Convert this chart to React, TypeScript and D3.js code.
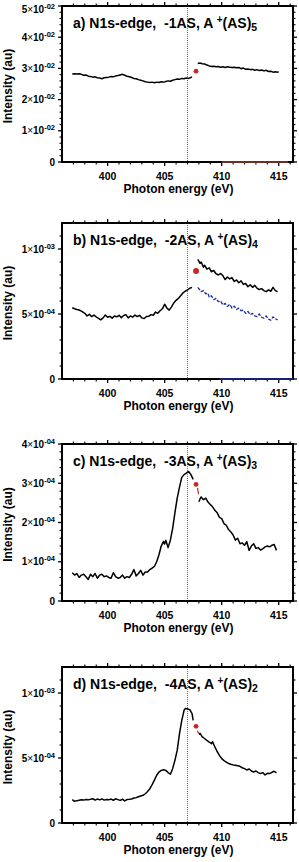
import React from "react";
import * as d3 from "d3";

const W = 299;
const H = 862;
const X_LEFT = 62;
const X_RIGHT = 293;
const FONT = "'Liberation Sans', Arial, Helvetica, sans-serif";

const energyDomain: [number, number] = [396, 416.25];
const energyMajor = [400, 405, 410, 415];
const energyMinor = [397, 398, 399, 401, 402, 403, 404, 406, 407, 408, 409, 411, 412, 413, 414, 416];
const edgeEnergy = 407.0;

// ---------- Panel a (values x 1e-2) ----------
const aBefore: [number, number][] = [
  [396.9, 2.82], [397.1, 2.83], [397.3, 2.82], [397.5, 2.83], [397.7, 2.81], [397.9, 2.78], [398.1, 2.79],
  [398.3, 2.75], [398.5, 2.74], [398.7, 2.72], [398.9, 2.73], [399.1, 2.7], [399.3, 2.69], [399.5, 2.67],
  [399.7, 2.7], [399.9, 2.71], [400.1, 2.72], [400.3, 2.74], [400.5, 2.73], [400.7, 2.76], [400.9, 2.77],
  [401.1, 2.79], [401.3, 2.81], [401.5, 2.78], [401.7, 2.75], [401.9, 2.73], [402.1, 2.71], [402.3, 2.68],
  [402.5, 2.67], [402.7, 2.64], [402.9, 2.62], [403.1, 2.6], [403.3, 2.57], [403.5, 2.56], [403.7, 2.55],
  [403.9, 2.56], [404.1, 2.54], [404.3, 2.56], [404.5, 2.55], [404.7, 2.57], [404.9, 2.56], [405.1, 2.58],
  [405.3, 2.6], [405.5, 2.59], [405.7, 2.62], [405.9, 2.64], [406.1, 2.66], [406.3, 2.65], [406.5, 2.68],
  [406.7, 2.67], [406.9, 2.69], [407.1, 2.68], [407.3, 2.71], [407.4, 2.73],
];
const aAfter: [number, number][] = [
  [407.9, 3.16], [408.1, 3.17], [408.3, 3.15], [408.5, 3.14], [408.7, 3.11], [408.9, 3.08], [409.1, 3.06],
  [409.3, 3.07], [409.5, 3.05], [409.7, 3.06], [409.9, 3.04], [410.1, 3.05], [410.3, 3.03], [410.5, 3.05],
  [410.7, 3.04], [410.9, 3.03], [411.1, 3.04], [411.3, 3.02], [411.5, 3.03], [411.7, 2.99], [411.9, 3.01],
  [412.1, 2.97], [412.3, 2.98], [412.5, 2.96], [412.7, 2.97], [412.9, 2.94], [413.1, 2.96], [413.3, 2.93],
  [413.5, 2.95], [413.7, 2.92], [413.9, 2.94], [414.1, 2.9], [414.3, 2.91], [414.5, 2.88], [414.7, 2.89],
  [414.9, 2.88], [415.0, 2.89],
];
const aDot: [number, number] = [407.75, 2.91];
const aZeroLine: [number, number][] = [[410.0, 0], [415.8, 0]];
const aTicks = [0, 1, 2, 3, 4, 5];
const aTickMant = ["0", "1", "2", "3", "4", "5"];
const aTickExp = ["", "-02", "-02", "-02", "-02", "-02"];
const aMinor = [0.2, 0.4, 0.6, 0.8, 1.2, 1.4, 1.6, 1.8, 2.2, 2.4, 2.6, 2.8, 3.2, 3.4, 3.6, 3.8, 4.2, 4.4, 4.6, 4.8];

// ---------- Panel b (values x 1e-4) ----------
const bBefore: [number, number][] = [
  [396.9, 5.48], [397.1, 5.4], [397.3, 5.35], [397.5, 5.31], [397.7, 5.22], [397.9, 5.1], [398.0, 5.05],
  [398.2, 4.85], [398.4, 4.97], [398.6, 4.8], [398.8, 4.92], [399.0, 4.78], [399.2, 4.67], [399.4, 4.55],
  [399.6, 4.7], [399.8, 4.92], [400.0, 4.75], [400.2, 4.82], [400.4, 4.68], [400.6, 4.85], [400.8, 4.78],
  [401.0, 4.9], [401.2, 4.72], [401.4, 4.88], [401.6, 4.95], [401.8, 4.7], [402.0, 4.85], [402.2, 4.76],
  [402.4, 4.92], [402.6, 4.8], [402.8, 4.9], [403.0, 4.7], [403.2, 4.65], [403.4, 4.8], [403.6, 4.82],
  [403.8, 4.95], [404.0, 4.9], [404.2, 5.15], [404.4, 5.05], [404.6, 5.25], [404.8, 5.4], [405.0, 5.75],
  [405.2, 5.45], [405.4, 5.3], [405.6, 5.55], [405.8, 5.85], [406.0, 6.05], [406.2, 6.2], [406.4, 6.4],
  [406.6, 6.62], [406.8, 6.75], [407.0, 6.85], [407.2, 6.98], [407.4, 7.05],
];
const bAfter: [number, number][] = [
  [407.9, 9.2], [408.0, 9.05], [408.1, 8.9], [408.2, 9.0], [408.4, 8.6], [408.5, 8.75], [408.7, 8.45],
  [408.9, 8.55], [409.1, 8.25], [409.3, 8.35], [409.5, 8.1], [409.7, 8.0], [409.9, 8.12], [410.1, 7.95],
  [410.3, 7.65], [410.5, 7.85], [410.7, 7.7], [410.9, 7.8], [411.1, 7.5], [411.3, 7.62], [411.5, 7.4],
  [411.7, 7.55], [411.9, 7.28], [412.1, 7.35], [412.3, 7.1], [412.5, 7.25], [412.7, 7.05], [412.9, 7.2],
  [413.1, 6.98], [413.3, 6.88], [413.5, 6.95], [413.7, 6.8], [413.9, 6.72], [414.1, 6.85], [414.3, 6.75],
  [414.5, 7.05], [414.7, 6.8], [414.9, 6.72],
];
const bDashed: [number, number][] = [
  [407.9, 7.05], [408.1, 6.85], [408.2, 6.72], [408.4, 6.8], [408.6, 6.55], [408.8, 6.6], [408.9, 6.3],
  [409.1, 6.4], [409.3, 6.1], [409.5, 6.2], [409.7, 5.95], [409.9, 6.0], [410.1, 5.7], [410.3, 5.82],
  [410.5, 5.58], [410.7, 5.75], [410.9, 5.45], [411.1, 5.6], [411.3, 5.35], [411.5, 5.45], [411.7, 5.25],
  [411.9, 5.3], [412.1, 5.05], [412.3, 5.2], [412.5, 4.95], [412.7, 5.05], [412.9, 4.85], [413.1, 4.8],
  [413.3, 5.0], [413.5, 4.75], [413.7, 4.68], [413.9, 4.85], [414.1, 4.6], [414.3, 4.52], [414.5, 4.78],
  [414.7, 4.62], [414.9, 4.55],
];
const bDot: [number, number] = [407.75, 8.31];
const bZeroLine: [number, number][] = [[409.8, 0], [416.25, 0]];
const bTicks = [0, 5, 10];
const bTickMant = ["0", "5", "1"];
const bTickExp = ["", "-04", "-03"];
const bMinor = [1, 2, 3, 4, 6, 7, 8, 9, 11];

// ---------- Panel c (values x 1e-4) ----------
const cBefore: [number, number][] = [
  [396.9, 0.72], [397.1, 0.66], [397.3, 0.7], [397.5, 0.6], [397.7, 0.66], [397.9, 0.68], [398.1, 0.62],
  [398.3, 0.55], [398.5, 0.68], [398.7, 0.62], [398.9, 0.7], [399.1, 0.58], [399.3, 0.66], [399.5, 0.68],
  [399.7, 0.62], [399.9, 0.64], [400.1, 0.6], [400.3, 0.58], [400.5, 0.72], [400.7, 0.62], [400.9, 0.58],
  [401.1, 0.6], [401.3, 0.66], [401.5, 0.58], [401.7, 0.62], [401.9, 0.6], [402.1, 0.68], [402.3, 0.8],
  [402.5, 0.64], [402.7, 0.7], [402.9, 0.78], [403.1, 0.66], [403.3, 0.74], [403.5, 0.74], [403.7, 0.8],
  [403.9, 0.84], [404.1, 0.88], [404.3, 1.0], [404.5, 1.18], [404.7, 1.4], [404.9, 1.52], [405.0, 1.45],
  [405.1, 1.55], [405.3, 1.36], [405.5, 1.55], [405.7, 1.85], [405.9, 2.25], [406.1, 2.62], [406.3, 2.9],
  [406.5, 3.15], [406.7, 3.22], [406.9, 3.26], [407.1, 3.3], [407.3, 3.22], [407.5, 3.1],
];
const cAfter: [number, number][] = [
  [408.0, 2.53], [408.1, 2.6], [408.2, 2.65], [408.4, 2.58], [408.6, 2.62], [408.8, 2.52], [409.0, 2.46],
  [409.2, 2.4], [409.4, 2.31], [409.6, 2.25], [409.8, 2.13], [410.0, 2.1], [410.2, 1.97], [410.4, 1.93],
  [410.6, 1.82], [410.8, 1.76], [411.0, 1.68], [411.2, 1.55], [411.4, 1.6], [411.6, 1.46], [411.8, 1.48],
  [412.0, 1.42], [412.2, 1.51], [412.4, 1.29], [412.6, 1.4], [412.8, 1.46], [413.0, 1.34], [413.2, 1.36],
  [413.4, 1.3], [413.6, 1.33], [413.8, 1.38], [414.0, 1.4], [414.2, 1.38], [414.4, 1.42], [414.6, 1.44],
  [414.8, 1.29],
];
const cRed: [number, number][] = [[407.88, 2.88], [407.97, 2.72]];
const cDot: [number, number] = [407.75, 2.97];
const cTicks = [0, 1, 2, 3, 4];
const cTickMant = ["0", "1", "2", "3", "4"];
const cTickExp = ["", "-04", "-04", "-04", "-04"];
const cMinor = [0.2, 0.4, 0.6, 0.8, 1.2, 1.4, 1.6, 1.8, 2.2, 2.4, 2.6, 2.8, 3.2, 3.4, 3.6, 3.8];

// ---------- Panel d (values x 1e-4) ----------
const dBefore: [number, number][] = [
  [396.9, 1.8], [397.1, 1.67], [397.3, 1.72], [397.5, 1.75], [397.7, 1.78], [397.9, 1.76], [398.1, 1.8],
  [398.3, 1.78], [398.5, 1.82], [398.7, 1.87], [398.9, 1.76], [399.1, 1.84], [399.3, 1.78], [399.5, 1.86],
  [399.7, 1.76], [399.9, 1.8], [400.1, 1.78], [400.3, 1.84], [400.5, 1.75], [400.7, 1.86], [400.9, 1.8],
  [401.1, 1.74], [401.3, 1.83], [401.5, 1.7], [401.7, 1.8], [401.9, 1.82], [402.1, 1.85], [402.3, 1.92],
  [402.5, 1.95], [402.7, 2.02], [402.9, 2.08], [403.1, 2.13], [403.3, 2.25], [403.5, 2.42], [403.7, 2.64],
  [403.9, 2.95], [404.1, 3.3], [404.3, 3.67], [404.5, 3.92], [404.7, 4.05], [404.9, 4.1], [405.1, 4.05],
  [405.3, 3.88], [405.5, 3.75], [405.7, 4.18], [405.9, 4.82], [406.1, 5.6], [406.3, 6.88], [406.5, 7.9],
  [406.6, 8.28], [406.7, 8.67], [406.8, 8.8], [407.0, 8.78], [407.2, 8.72], [407.4, 8.42], [407.5, 7.9],
];
const dAfter: [number, number][] = [
  [408.0, 6.82], [408.1, 6.9], [408.3, 6.62], [408.5, 6.5], [408.7, 6.35], [408.9, 6.23], [409.1, 6.1],
  [409.2, 6.25], [409.4, 5.85], [409.6, 5.5], [409.8, 5.2], [410.0, 4.95], [410.2, 4.8], [410.4, 4.69],
  [410.6, 4.58], [410.8, 4.52], [411.0, 4.47], [411.2, 4.44], [411.4, 4.4], [411.6, 4.36], [411.8, 4.25],
  [412.0, 4.18], [412.2, 4.08], [412.4, 4.15], [412.6, 4.0], [412.8, 3.92], [413.0, 4.0], [413.2, 3.88],
  [413.4, 3.8], [413.6, 3.88], [413.8, 3.7], [414.0, 3.82], [414.2, 3.8], [414.4, 3.9], [414.6, 3.98],
  [414.8, 3.85],
];
const dRed: [number, number][] = [[407.88, 7.1], [407.97, 6.88]];
const dDot: [number, number] = [407.75, 7.44];
const dTicks = [0, 5, 10];
const dTickMant = ["0", "5", "1"];
const dTickExp = ["", "-04", "-03"];
const dMinor = [1, 2, 3, 4, 6, 7, 8, 9, 11];

type Series = { data: [number, number][]; color: string; width: number; dash?: string };

type PanelCfg = {
  top: number;
  bottom: number;
  yMax: number;
  title: string;
  titleSub: string;
  ticks: number[];
  mant: string[];
  exp: string[];
  minor: number[];
  series: Series[];
  dot: [number, number];
  dotR: number;
};

const RED = "#c42a25";
const BLUE = "#1e2c9c";

const panels: PanelCfg[] = [
  {
    top: 6, bottom: 162, yMax: 5, title: "a) N1s-edge,  -1AS, A ", titleSub: "5",
    ticks: aTicks, mant: aTickMant, exp: aTickExp, minor: aMinor,
    series: [
      { data: aZeroLine, color: "#d0604a", width: 1.2 },
      { data: aBefore, color: "#000", width: 1.5 },
      { data: aAfter, color: "#000", width: 1.5 },
    ],
    dot: aDot, dotR: 2.4,
  },
  {
    top: 223, bottom: 379, yMax: 12, title: "b) N1s-edge,  -2AS, A ", titleSub: "4",
    ticks: bTicks, mant: bTickMant, exp: bTickExp, minor: bMinor,
    series: [
      { data: bZeroLine, color: BLUE, width: 1.4 },
      { data: bBefore, color: "#000", width: 1.5 },
      { data: bAfter, color: "#000", width: 1.5 },
      { data: bDashed, color: BLUE, width: 1.3, dash: "3.5 1.5" },
    ],
    dot: bDot, dotR: 3,
  },
  {
    top: 444, bottom: 601, yMax: 4, title: "c) N1s-edge,  -3AS, A ", titleSub: "3",
    ticks: cTicks, mant: cTickMant, exp: cTickExp, minor: cMinor,
    series: [
      { data: cBefore, color: "#000", width: 1.5 },
      { data: cAfter, color: "#000", width: 1.5 },
      { data: cRed, color: RED, width: 1.2 },
    ],
    dot: cDot, dotR: 2.4,
  },
  {
    top: 667, bottom: 823, yMax: 12, title: "d) N1s-edge,  -4AS, A ", titleSub: "2",
    ticks: dTicks, mant: dTickMant, exp: dTickExp, minor: dMinor,
    series: [
      { data: dBefore, color: "#000", width: 1.5 },
      { data: dAfter, color: "#000", width: 1.5 },
      { data: dRed, color: RED, width: 1.2 },
    ],
    dot: dDot, dotR: 2.4,
  },
];

function Panel({ p }: { p: PanelCfg }) {
  const x = d3.scaleLinear().domain(energyDomain).range([X_LEFT, X_RIGHT]);
  const y = d3.scaleLinear().domain([0, p.yMax]).range([p.bottom, p.top]);
  const line = d3
    .line<[number, number]>()
    .x((d) => x(d[0]))
    .y((d) => y(d[1]));
  const MAJ = 4;
  const MIN = 2.5;
  const midY = (p.top + p.bottom) / 2;
  return (
    <g>
      {p.ticks.map((t, i) => (
        <g key={"yt" + i}>
          <line x1={X_LEFT - MAJ} x2={X_LEFT} y1={y(t)} y2={y(t)} stroke="#000" strokeWidth={1.3} />
          <line x1={X_RIGHT} x2={X_RIGHT + MAJ} y1={y(t)} y2={y(t)} stroke="#000" strokeWidth={1.3} />
        </g>
      ))}
      {p.minor.map((t, i) => (
        <g key={"ym" + i}>
          <line x1={X_LEFT - MIN} x2={X_LEFT} y1={y(t)} y2={y(t)} stroke="#000" strokeWidth={1.1} />
          <line x1={X_RIGHT} x2={X_RIGHT + MIN} y1={y(t)} y2={y(t)} stroke="#000" strokeWidth={1.1} />
        </g>
      ))}
      {energyMajor.map((t, i) => (
        <g key={"xt" + i}>
          <line x1={x(t)} x2={x(t)} y1={p.bottom} y2={p.bottom + MAJ} stroke="#000" strokeWidth={1.3} />
          <line x1={x(t)} x2={x(t)} y1={p.top - MAJ} y2={p.top} stroke="#000" strokeWidth={1.3} />
        </g>
      ))}
      {energyMinor.map((t, i) => (
        <g key={"xm" + i}>
          <line x1={x(t)} x2={x(t)} y1={p.bottom} y2={p.bottom + MIN} stroke="#000" strokeWidth={1.1} />
          <line x1={x(t)} x2={x(t)} y1={p.top - MIN} y2={p.top} stroke="#000" strokeWidth={1.1} />
        </g>
      ))}
      <line
        x1={x(edgeEnergy)} x2={x(edgeEnergy)} y1={p.top} y2={p.bottom}
        stroke="#666" strokeWidth={1} strokeDasharray="1 1"
      />
      <rect
        x={X_LEFT} y={p.top} width={X_RIGHT - X_LEFT} height={p.bottom - p.top}
        fill="none" stroke="#000" strokeWidth={2}
      />
      {p.series.map((s, i) => (
        <path
          key={"s" + i} d={line(s.data) || ""} fill="none" stroke={s.color}
          strokeWidth={s.width} strokeDasharray={s.dash} strokeLinejoin="round"
        />
      ))}
      <circle cx={x(p.dot[0])} cy={y(p.dot[1])} r={p.dotR} fill={RED} />
      {p.ticks.map((t, i) => {
        const ly = Math.max(y(t), 9.5) + 3.6;
        return (
          <text key={"yl" + i} x={55} y={ly} textAnchor="end" fontFamily={FONT} fontSize={10} fontWeight="bold">
            {p.exp[i] === "" ? (
              p.mant[i]
            ) : (
              <>
                {p.mant[i]}
                <tspan fontWeight="normal">×</tspan>
                10
                <tspan dy={-4} fontSize={7.5}>{p.exp[i]}</tspan>
              </>
            )}
          </text>
        );
      })}
      {energyMajor.map((t, i) => (
        <text key={"xl" + i} x={x(t)} y={p.bottom + 17.5} textAnchor="middle" fontFamily={FONT} fontSize={10.5} fontWeight="bold">
          {t}
        </text>
      ))}
      <text x={(X_LEFT + X_RIGHT) / 2 + 1} y={p.bottom + 31} textAnchor="middle" fontFamily={FONT} fontSize={12} fontWeight="bold">
        Photon energy (eV)
      </text>
      <text
        transform={`translate(12, ${midY + 2}) rotate(-90)`} textAnchor="middle"
        fontFamily={FONT} fontSize={12} fontWeight="bold"
      >
        Intensity (au)
      </text>
      <text x={73} y={p.top + 22} fontFamily={FONT} fontSize={14} fontWeight="bold" style={{ whiteSpace: "pre" }}>
        {p.title}
        <tspan dy={-5} fontSize={10}>+</tspan>
        <tspan dy={5}>(AS)</tspan>
        <tspan dy={3} fontSize={10.5}>{p.titleSub}</tspan>
      </text>
    </g>
  );
}

export default function App() {
  return (
    <svg
      width={W} height={H} viewBox={`0 0 ${W} ${H}`}
      style={{ position: "absolute", left: 0, top: 0, background: "#fff" }}
    >
      <rect x={0} y={0} width={W} height={H} fill="#fff" />
      {panels.map((p, i) => (
        <Panel key={i} p={p} />
      ))}
    </svg>
  );
}
